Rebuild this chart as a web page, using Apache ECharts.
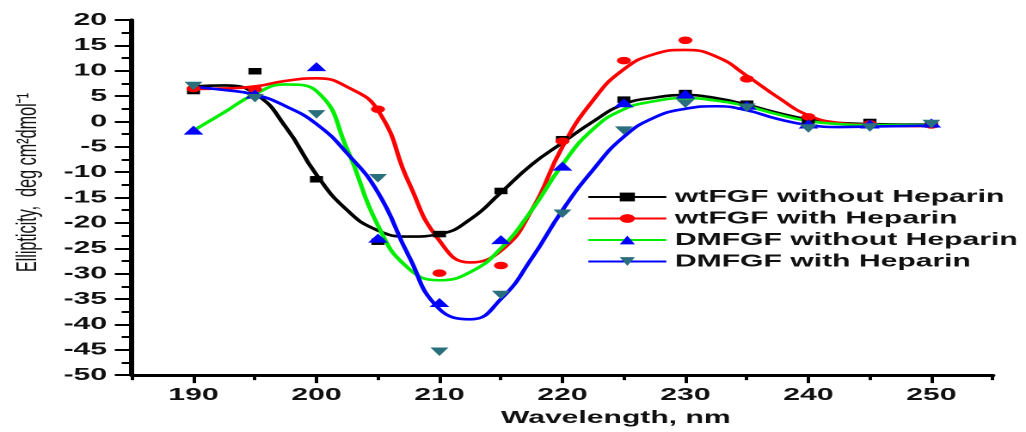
<!DOCTYPE html>
<html>
<head>
<meta charset="utf-8">
<script src="https://cdn.jsdelivr.net/npm/echarts@6.0.0/dist/echarts.min.js"></script>
<style>
html,body{margin:0;padding:0;background:#fff;overflow:hidden;width:1026px;height:432px;}
#c{position:absolute;left:0;top:0;height:432px;transform-origin:0 0;}
</style>
</head>
<body>
<div id="c"></div>
<script>
// ---- data ----
const wavelengths = [190, 195, 200, 205, 210, 215, 220, 225, 230, 235, 240, 245, 250];
const wtNoHep = [6.0, 9.9, -11.4, -23.7, -22.2, -13.7, -3.5, 4.3, 5.6, 3.5, 0.2, -0.1, -0.6];
const wtHep   = [6.5, 6.4, null, 2.4, -29.9, -28.4, -3.9, 12.0, 16.0, 8.4, 0.9, -0.5, -0.7];
const dmNoHep = [-1.7, 5.4, 10.8, -23.0, -35.7, -23.3, -8.8, 3.7, 5.4, 3.2, -0.5, -0.5, -0.3];
const dmHep   = [7.0, 4.6, 1.4, -11.2, -45.4, -34.2, -18.2, -1.8, 3.5, 2.7, -1.4, -1.2, -0.5];

// fitted curves, values
const fitX = [190, 192.5, 195, 197.5, 200, 202.5, 205, 207.5, 210, 212.5, 215, 217.5, 220, 222.5, 225, 227.5, 230, 232.5, 235, 237.5, 240, 242.5, 245, 247.5, 250];
const fitWtNoHep = [6.9, 7.1, 5.5, -1.1, -10.5, -17.5, -21.5, -22.7, -22.2, -19.3, -14.0, -8.5, -4.2, 0.0, 3.4, 4.7, 5.2, 4.6, 3.3, 1.7, 0.4, -0.3, -0.5, -0.6, -0.6];
const fitWtHep   = [6.4, 6.5, 6.9, 8.0, 8.5, 6.8, 2.2, -12.0, -23.5, -27.8, -25.5, -17.5, -5.0, 4.2, 10.3, 13.3, 14.1, 12.8, 9.0, 4.8, 1.2, -0.3, -0.7, -0.9, -0.9];
const fitDmNoHep = [-1.8, 1.8, 5.4, 7.3, 6.0, -5.5, -20.5, -29.0, -31.3, -29.7, -25.0, -17.5, -8.5, -1.5, 2.4, 4.0, 4.6, 4.1, 3.0, 1.4, 0.1, -0.5, -0.7, -0.7, -0.7];
const fitDmHep   = [6.8, 6.2, 5.3, 3.0, -0.5, -6.3, -14.0, -26.5, -37.0, -39.0, -35.0, -27.0, -17.5, -9.5, -3.0, 0.8, 2.5, 3.0, 2.2, 0.5, -0.7, -1.1, -1.0, -0.9, -0.8];

const seriesNames = ['wtFGF without Heparin', 'wtFGF with Heparin', 'DMFGF without Heparin', 'DMFGF with Heparin'];
const xLabelValues = [190, 200, 210, 220, 230, 240, 250];
const xMinorValues = [185, 195, 205, 215, 225, 235, 245, 255];

// ---- presentation ----
const S = 1.72; // horizontal stretch of the original figure
const W = 1026 / S;
const el = document.getElementById('c');
el.style.width = W + 'px';
el.style.transform = 'scaleX(' + S + ')';

const FONT = "'Liberation Sans', Arial, Helvetica, sans-serif";
const lineColors = ['#000000', '#ff0000', '#00ee00', '#0000ff'];
const markColors = ['#000000', '#ff0000', '#0000ff', '#2a6f7c'];
const symbols = ['rect', 'circle', 'triangle', 'path://M0,0L2,0L1,2Z'];
const symSizes = [[7.6, 6.5], [8.2, 7.5], [11.5, 9], [10.5, 8.5]];
const fits = [fitWtNoHep, fitWtHep, fitDmNoHep, fitDmHep];
const pts = [wtNoHep, wtHep, dmNoHep, dmHep];

const zip = (xs, ys) => xs.map((x, i) => [x, ys[i]]).filter(p => p[1] !== null);

const series = [];
for (let i = 0; i < 4; i++) {
  series.push({
    name: seriesNames[i], type: 'line', xAxisIndex: 0, yAxisIndex: 0,
    data: zip(fitX, fits[i]), smooth: 0.5, showSymbol: false,
    symbol: symbols[i], symbolSize: symSizes[i],
    itemStyle: { color: markColors[i] },
    lineStyle: { color: lineColors[i], width: 2.6 },
    z: 2, silent: true
  });
}
for (let i = 0; i < 4; i++) {
  series.push({
    name: seriesNames[i], type: 'scatter', xAxisIndex: 0, yAxisIndex: 0,
    data: zip(wavelengths, pts[i]),
    symbol: symbols[i], symbolSize: symSizes[i],
    itemStyle: { color: markColors[i], opacity: 1 },
    z: 3, silent: true
  });
}

const chart = echarts.init(el, null, { renderer: 'canvas', devicePixelRatio: 2 });
chart.setOption({
  animation: false,
  backgroundColor: '#ffffff',
  grid: { left: 132 / S, right: (1026 - 992) / S, top: 20, bottom: 55 },
  legend: {
    orient: 'vertical', left: 578 / S, top: 183,
    itemWidth: (658 - 580) / S, itemHeight: 11, itemGap: 3.5,
    data: seriesNames,
    textStyle: { fontFamily: FONT, fontSize: 17.5, fontWeight: 'bold', color: '#111' },
    selectedMode: false
  },
  xAxis: [
    {
      type: 'value', min: 185, max: 255, interval: 5, position: 'bottom',
      axisLine: { show: true, onZero: false, lineStyle: { color: '#000', width: 3 } },
      axisTick: { show: true, customValues: xLabelValues, length: 8, lineStyle: { color: '#000', width: 2 } },
      axisLabel: { customValues: xLabelValues, fontFamily: FONT, fontSize: 17.5, fontWeight: 'bold', color: '#111', margin: 11 },
      splitLine: { show: false },
      name: 'Wavelength, nm', nameLocation: 'middle', nameGap: 30,
      nameTextStyle: { fontFamily: FONT, fontSize: 17.5, fontWeight: 'bold', color: '#111', padding: [0, 0, 0, 62] }
    },
    {
      type: 'value', min: 185, max: 255, interval: 5, position: 'bottom',
      axisLine: { show: false, onZero: false },
      axisTick: { show: true, customValues: xMinorValues, length: 5, lineStyle: { color: '#000', width: 2 } },
      axisLabel: { show: false },
      splitLine: { show: false }
    }
  ],
  yAxis: {
    type: 'value', min: -50, max: 20, interval: 5,
    axisLine: { show: true, onZero: false, lineStyle: { color: '#000', width: 3 } },
    axisTick: { show: true, length: 10, lineStyle: { color: '#000', width: 2 } },
    minorTick: { show: true, splitNumber: 2, length: 6, lineStyle: { color: '#000', width: 2 } },
    axisLabel: { fontFamily: FONT, fontSize: 17.5, fontWeight: 'bold', color: '#111', margin: 14.5 },
    splitLine: { show: false },
    minorSplitLine: { show: false },
    name: 'Ellipticity,  deg cm²dmol⁻¹', nameLocation: 'middle', nameRotate: 90, nameGap: 52,
    nameTextStyle: { fontFamily: FONT, fontSize: 16.2, color: '#111', padding: [0, 0, 0, 30] }
  },
  series: series
});
</script>
</body>
</html>
